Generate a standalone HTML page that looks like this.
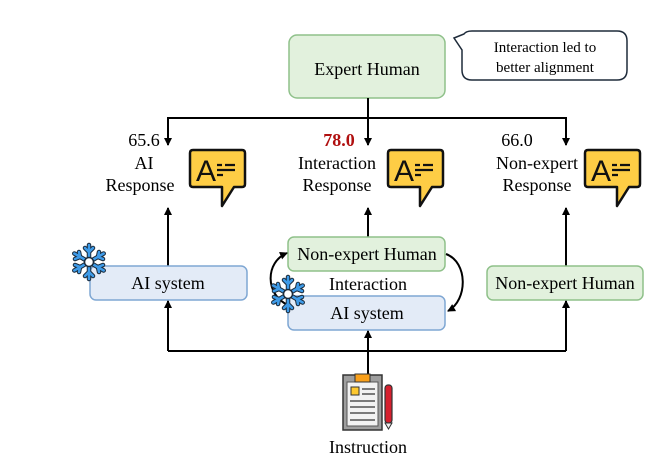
<!DOCTYPE html>
<html><head><meta charset="utf-8"><style>
html,body{margin:0;padding:0;background:#fff;}
svg{display:block;}
svg text{font-family:"Liberation Serif","DejaVu Serif",serif;}
</style></head><body>
<svg width="668" height="474" viewBox="0 0 668 474" xmlns="http://www.w3.org/2000/svg" font-family="Liberation Serif, DejaVu Serif, serif">
<defs>
<marker id="ah" markerWidth="8" markerHeight="8" refX="7" refY="4" orient="auto" markerUnits="userSpaceOnUse">
<path d="M0,0 L8,4 L0,8 z" fill="#000"/></marker>
<g id="chat">
<path d="M3,0 H52 Q55,0 55,3 V34 Q55,37 52,37 H44 L32,56 L32,37 H3 Q0,37 0,34 V3 Q0,0 3,0 Z" fill="#fecd45" stroke="#111" stroke-width="2.5" stroke-linejoin="round"/>
<text x="6" y="31" style="font-family:'Liberation Sans',sans-serif" font-size="30" fill="#111">A</text>
<path d="M27,15 H32 M35,15 H45 M27,20 H45 M27,25 H33" stroke="#111" stroke-width="2.2"/>
</g>
<g id="snow" stroke-linecap="round">
<g stroke="#1a2a3a" stroke-width="4.5" fill="none">
<path d="M0,-17 V17 M-14.7,-8.5 L14.7,8.5 M-14.7,8.5 L14.7,-8.5"/>
<path d="M-4,-14 L0,-10 L4,-14 M-4,14 L0,10 L4,14 M-14,-3 L-9,-5 L-10,-10 M14,3 L9,5 L10,10 M-14,3 L-9,5 L-10,10 M14,-3 L9,-5 L10,-10"/>
</g>
<g stroke="#3f9be8" stroke-width="2.5" fill="none">
<path d="M0,-17 V17 M-14.7,-8.5 L14.7,8.5 M-14.7,8.5 L14.7,-8.5"/>
<path d="M-4,-14 L0,-10 L4,-14 M-4,14 L0,10 L4,14 M-14,-3 L-9,-5 L-10,-10 M14,3 L9,5 L10,10 M-14,3 L-9,5 L-10,10 M14,-3 L9,-5 L10,-10"/>
</g>
<circle r="4.5" fill="#fff" stroke="#1a2a3a" stroke-width="1.5"/>
</g>
</defs>

<rect x="289" y="35" width="156" height="63" rx="8" fill="#e2f1dd" stroke="#8fc18a" stroke-width="1.5"/>
<text x="367" y="75" font-size="18" text-anchor="middle">Expert Human</text>

<path d="M472,31 H617 Q627,31 627,41 V70 Q627,80 617,80 H472 Q462,80 462,70 V50 L454,38 L464,34 Q466,31 472,31 Z" fill="#fff" stroke="#1e2b3a" stroke-width="1.5"/>
<text x="545" y="52" font-size="15" text-anchor="middle">Interaction led to</text>
<text x="545" y="72" font-size="15" text-anchor="middle">better alignment</text>

<g stroke="#000" stroke-width="2" fill="none">
<path d="M368,98 V118"/>
<path d="M168,145 V118 H566 V145" marker-end="url(#ah)"/>
<path d="M168,118 V145" marker-end="url(#ah)"/>
<path d="M368,118 V145" marker-end="url(#ah)"/>
</g>

<g font-size="18" text-anchor="middle">
<text x="144" y="146">65.6</text>
<text x="144" y="169">AI</text>
<text x="140" y="191">Response</text>
<text x="339" y="146" fill="#b01010" font-weight="bold">78.0</text>
<text x="337" y="169">Interaction</text>
<text x="337" y="191">Response</text>
<text x="517" y="146">66.0</text>
<text x="537" y="169">Non-expert</text>
<text x="537" y="191">Response</text>
</g>
<use href="#chat" x="190" y="150"/>
<use href="#chat" x="388" y="150"/>
<use href="#chat" x="585" y="150"/>

<g stroke="#000" stroke-width="2" fill="none">
<path d="M168,266 V208" marker-end="url(#ah)"/>
<path d="M368,237 V208" marker-end="url(#ah)"/>
<path d="M566,266 V208" marker-end="url(#ah)"/>
</g>

<rect x="90" y="266" width="157" height="34" rx="6" fill="#e3ebf7" stroke="#7fa7d3" stroke-width="1.5"/>
<text x="168" y="289" font-size="18" text-anchor="middle">AI system</text>
<use href="#snow" x="89" y="262"/>

<rect x="288" y="237" width="157" height="34" rx="6" fill="#e2f1dd" stroke="#8fc18a" stroke-width="1.5"/>
<text x="367" y="260" font-size="18" text-anchor="middle">Non-expert Human</text>
<text x="368" y="290" font-size="18" text-anchor="middle">Interaction</text>
<rect x="288" y="296" width="157" height="34" rx="6" fill="#e3ebf7" stroke="#7fa7d3" stroke-width="1.5"/>
<text x="367" y="319" font-size="18" text-anchor="middle">AI system</text>
<g stroke="#000" stroke-width="2" fill="none">
<path d="M446,254 C468,262 468,300 448,311" marker-end="url(#ah)"/>
<path d="M288,305 C265,295 265,262 287,253" marker-end="url(#ah)"/>
</g>
<use href="#snow" x="288" y="294"/>

<rect x="487" y="266" width="156" height="34" rx="6" fill="#e2f1dd" stroke="#8fc18a" stroke-width="1.5"/>
<text x="565" y="289" font-size="18" text-anchor="middle">Non-expert Human</text>

<g stroke="#000" stroke-width="2" fill="none">
<path d="M368,378 V331" marker-end="url(#ah)"/>
<path d="M168,351 H566"/>
<path d="M168,351 V301" marker-end="url(#ah)"/>
<path d="M566,351 V301" marker-end="url(#ah)"/>
</g>

<rect x="343" y="375" width="39" height="55" fill="#9e9e9e" stroke="#333" stroke-width="1.5"/>
<rect x="347" y="382" width="31" height="44" fill="#f2f2f2" stroke="#555" stroke-width="1"/>
<rect x="355" y="374" width="15" height="8" fill="#f9a01b" stroke="#333" stroke-width="1"/>
<rect x="351" y="387" width="8" height="8" fill="#fdc82f" stroke="#333" stroke-width="1"/>
<g stroke="#333" stroke-width="1.3">
<path d="M362,389 H375 M362,394 H375 M350,401 H375 M350,407 H375 M350,413 H375 M350,420 H375"/>
</g>
<rect x="385" y="385" width="7" height="38" rx="3" fill="#d6202e" stroke="#333" stroke-width="1.2"/>
<path d="M385,423 L388.5,429 L392,423 Z" fill="#eee" stroke="#333" stroke-width="1"/>
<text x="368" y="453" font-size="18" text-anchor="middle">Instruction</text>
</svg>
</body></html>
